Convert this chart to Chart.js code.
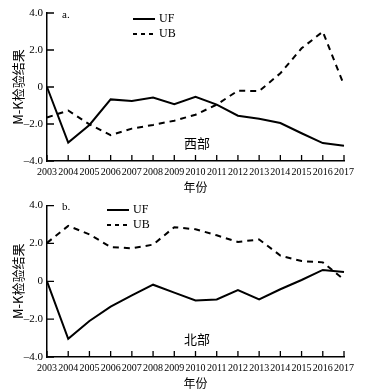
<!DOCTYPE html>
<html>
<head>
<meta charset="utf-8">
<script src="https://cdn.jsdelivr.net/npm/chart.js@4"></script>
<style>
  body { margin: 0; background: #fff; }
  .wrap { position: absolute; left: 0; width: 367px; }
  #w1 { top: 0; height: 195px; }
  #w2 { top: 195px; height: 196px; }
</style>
</head>
<body>
<div class="wrap" id="w1"><canvas id="c1"></canvas></div>
<div class="wrap" id="w2"><canvas id="c2"></canvas></div>
<script>
const years = ['2003','2004','2005','2006','2007','2008','2009','2010','2011','2012','2013','2014','2015','2016','2017'];
const yTicks = [4, 2, 0, -2, -4];
const yTickLabels = ['4.0', '2.0', '0', '\u20132.0', '\u20134.0'];

// 西部
const westUF = [0, -3.0, -2.05, -0.67, -0.75, -0.57, -0.93, -0.53, -0.95, -1.55, -1.72, -1.95, -2.5, -3.03, -3.18];
const westUB = [-1.65, -1.27, -2.02, -2.6, -2.25, -2.05, -1.82, -1.5, -0.95, -0.2, -0.22, 0.74, 2.09, 2.99, 0.1];
// 北部
const northUF = [0, -3.04, -2.1, -1.34, -0.74, -0.18, -0.6, -1.01, -0.96, -0.47, -0.96, -0.42, 0.07, 0.6, 0.49];
const northUB = [2.03, 2.93, 2.48, 1.81, 1.74, 1.94, 2.86, 2.75, 2.43, 2.08, 2.21, 1.36, 1.07, 1.0, 0.09];

const SERIF = "'Liberation Serif', 'Times New Roman', serif";
const CJK = "'Noto Sans CJK SC', sans-serif";

// inward tick marks + legend + panel labels
const decor = {
    id: 'decor',
    afterDraw(chart, args, opts) {
        const ctx = chart.ctx;
        const x = chart.scales.x, y = chart.scales.y;
        const a = chart.chartArea;
        ctx.save();
        ctx.strokeStyle = '#000';
        ctx.lineWidth = 1.3;
        ctx.beginPath();
        years.forEach((yr, i) => {
            const px = x.getPixelForValue(i);
            ctx.moveTo(px, a.bottom);
            ctx.lineTo(px, a.bottom - 6);
        });
        yTicks.forEach(v => {
            const py = y.getPixelForValue(v);
            ctx.moveTo(a.left, py);
            ctx.lineTo(a.left + 7, py);
        });
        ctx.stroke();

        // legend
        ctx.fillStyle = '#000';
        ctx.font = '12px ' + SERIF;
        ctx.textBaseline = 'middle';
        const L = opts.legend;
        ctx.lineWidth = 2;
        ctx.beginPath();
        ctx.moveTo(L.x, L.y); ctx.lineTo(L.x + 22, L.y);
        ctx.stroke();
        ctx.beginPath();
        ctx.setLineDash([4, 4]);
        ctx.moveTo(L.x, L.y + 15); ctx.lineTo(L.x + 22, L.y + 15);
        ctx.stroke();
        ctx.setLineDash([]);
        ctx.fillText('UF', L.x + 26, L.y);
        ctx.fillText('UB', L.x + 26, L.y + 15);

        ctx.font = '11px ' + SERIF;
        ctx.fillText(opts.panel, a.left + 15, a.top + 2);

        ctx.font = '13px ' + CJK;
        ctx.textAlign = 'center';
        ctx.fillText(opts.region, a.left + 150, a.bottom - 18);
        ctx.restore();
    }
};

function makeChart(id, uf, ub, top, opts) {
    return new Chart(document.getElementById(id), {
        type: 'line',
        data: {
            labels: years,
            datasets: [
                { label: 'UF', data: uf, borderColor: '#000', borderWidth: 2, pointRadius: 0, tension: 0, fill: false },
                { label: 'UB', data: ub, borderColor: '#000', borderWidth: 2, borderDash: [6, 5], pointRadius: 0, tension: 0, fill: false }
            ]
        },
        options: {
            responsive: true,
            maintainAspectRatio: false,
            animation: false,
            layout: { padding: { top: top, right: 23, left: 10, bottom: 0 } },
            plugins: {
                legend: { display: false },
                tooltip: { enabled: false },
                decor: opts
            },
            scales: {
                x: {
                    grid: { display: false, drawTicks: false },
                    border: { color: '#000', width: 1.5 },
                    ticks: { color: '#000', font: { family: SERIF, size: 10 }, padding: 5, maxRotation: 0, autoSkip: false },
                    title: { display: true, text: '年份', color: '#000', font: { family: CJK, size: 12 }, padding: { top: 1, bottom: 0 } },
                    afterFit: s => { s.height = 34; }
                },
                y: {
                    min: -4, max: 4,
                    afterBuildTicks: s => { s.ticks = yTicks.map(v => ({ value: v })); },
                    grid: { display: false, drawTicks: false },
                    border: { color: '#000', width: 1.5 },
                    ticks: {
                        color: '#000', font: { family: SERIF, size: 11 }, padding: 4,
                        callback: v => yTickLabels[yTicks.indexOf(v)]
                    },
                    title: { display: true, text: 'M-K检验结果', color: '#000', font: { family: CJK, size: 13 }, padding: 0 },
                    afterFit: s => { s.width = 37; }
                }
            }
        },
        plugins: [decor]
    });
}

makeChart('c1', westUF, westUB, 13, { legend: { x: 133, y: 19 }, panel: 'a.', region: '西部' });
makeChart('c2', northUF, northUB, 10, { legend: { x: 107, y: 15 }, panel: 'b.', region: '北部' });
</script>
</body>
</html>
